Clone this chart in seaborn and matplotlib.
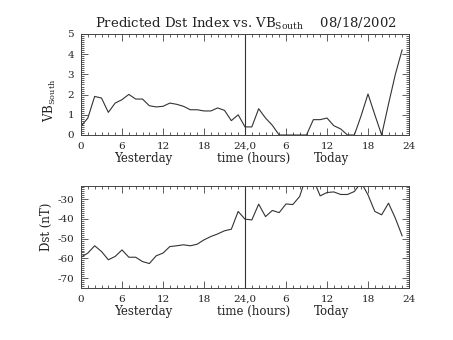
import numpy as np
import pandas as pd
import matplotlib
matplotlib.use("Agg")
import matplotlib.pyplot as plt
import seaborn as sns
from matplotlib.ticker import MultipleLocator

# ---------------- data ----------------
hours = list(range(48))
vb_south = [0.43, 0.84, 1.91, 1.83, 1.12, 1.58, 1.75, 2.01, 1.78, 1.78, 1.45, 1.39,
            1.42, 1.58, 1.52, 1.42, 1.25, 1.25, 1.19, 1.19, 1.34, 1.22, 0.71, 1.00,
            0.40, 0.40, 1.30, 0.84, 0.48, 0.00, 0.00, 0.00, 0.00, 0.00, 0.76, 0.76,
            0.84, 0.46, 0.30, 0.00, 0.00, 0.96, 2.03, 1.00, 0.00, 1.53, 3.00, 4.22]
dst = [-59.4, -57.3, -53.6, -56.5, -60.7, -59.0, -55.7, -59.4, -59.4, -61.6, -62.6, -58.7,
       -57.3, -54.0, -53.6, -53.1, -53.6, -52.8, -50.6, -48.9, -47.6, -46.0, -45.2, -36.2,
       -40.1, -40.5, -32.5, -38.8, -35.7, -36.8, -32.4, -32.7, -28.6, -18.0, -20.0, -28.3,
       -26.6, -26.3, -27.6, -27.6, -26.1, -21.5, -27.8, -36.2, -37.9, -32.0, -39.6, -48.6]
xtick_pos = [0, 6, 12, 18, 24, 30, 36, 42, 48]
xtick_labels = ["0", "6", "12", "18", "24,0", "6", "12", "18", "24"]
dst_ticks = [-70, -60, -50, -40, -30]
title_text = r"Predicted Dst Index vs. VB$_{\rm South}$    08/18/2002"
ylabel_top = r"VB$_{\rm South}$"
ylabel_bottom = "Dst (nT)"
day_labels = ["Yesterday", "time (hours)", "Today"]

df = pd.DataFrame({"hour": hours, "vb": vb_south, "dst": dst})

# ---------------- style ----------------
sns.set_theme(style="ticks")
plt.rcParams["font.family"] = ["DejaVu Serif"]
plt.rcParams["mathtext.fontset"] = "dejavuserif"
plt.rcParams["axes.unicode_minus"] = False

W, H = 453, 340
fig = plt.figure(figsize=(W / 100, H / 100), dpi=100)
fig.patch.set_facecolor("white")

def px_axes(l, t, r, b):
    return fig.add_axes([l / W, 1 - b / H, (r - l) / W, (b - t) / H])

ax1 = px_axes(81, 34, 409, 135)
ax2 = px_axes(81, 186, 409, 288)

line_col = "#333333"
for ax, col, ylim, ymaj, ymin in [(ax1, "vb", (0, 5), 1, 0.1),
                                  (ax2, "dst", (-75, -23.3), 10, 1)]:
    sns.lineplot(data=df, x="hour", y=col, ax=ax, color=line_col, linewidth=0.8)
    ax.axvline(24, color=line_col, linewidth=0.8)
    ax.set_xlim(0, 48)
    ax.set_ylim(*ylim)
    ax.set_xticks(xtick_pos)
    ax.set_xticklabels(xtick_labels)
    ax.xaxis.set_minor_locator(MultipleLocator(1))
    ax.yaxis.set_major_locator(MultipleLocator(ymaj))
    ax.yaxis.set_minor_locator(MultipleLocator(ymin))
    ax.tick_params(which="both", direction="in", top=True, right=True,
                   labeltop=False, labelright=False, color="#444444", width=0.6)
    ax.tick_params(which="major", length=5, labelsize=7.5, pad=5, labelcolor="#222222")
    ax.tick_params(which="minor", length=2.5)
    for s in ax.spines.values():
        s.set_linewidth(0.7)
        s.set_color("#444444")
    ax.set_xlabel("")
    ax.set_ylabel("")
    for txt, xh in zip(day_labels, [9.1, 25.2, 36.7]):
        ax.annotate(txt, xy=(xh, 0), xycoords=("data", "axes fraction"),
                    xytext=(0, -17), textcoords="offset points",
                    ha="center", va="center", fontsize=8.5, color="#222222")

ax2.set_yticks(dst_ticks)
ax2.set_ylim(-75, -23.3)

fig.text(246 / W, 1 - 24 / H, title_text, ha="center", va="center",
         fontsize=9.5, color="#222222")
fig.text(50 / W, 1 - 100 / H, ylabel_top, rotation=90, ha="center", va="center",
         fontsize=8.5, color="#222222")
fig.text(46 / W, 1 - 227 / H, ylabel_bottom, rotation=90, ha="center", va="center",
         fontsize=8.5, color="#222222")

fig.savefig("out.png", dpi=100, facecolor="white")
